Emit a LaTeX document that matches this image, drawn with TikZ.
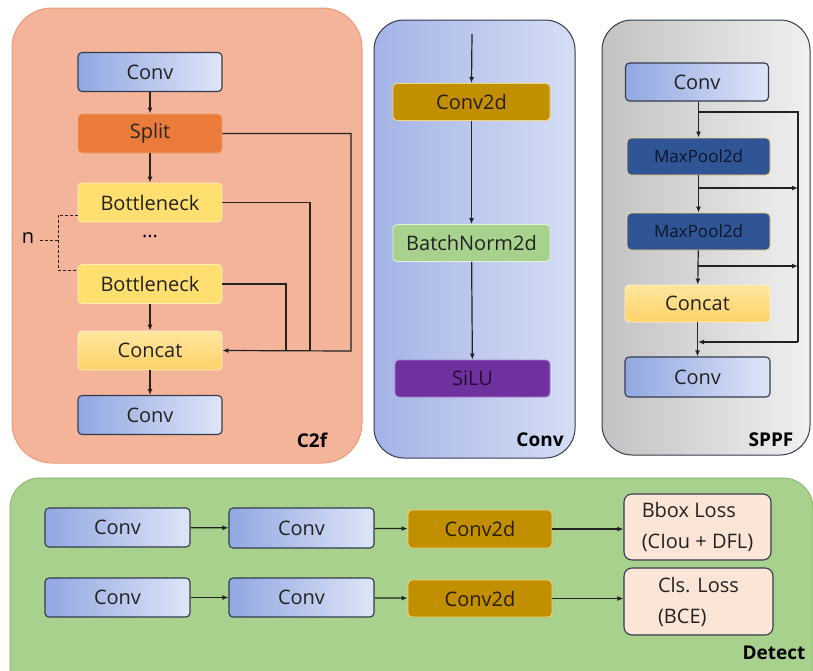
\documentclass[tikz,border=0pt]{standalone}
\usepackage{fontspec}
\setmainfont{Open Sans}
\usetikzlibrary{arrows.meta}
\definecolor{c2ffill}{HTML}{F4B49A}
\definecolor{c2fline}{HTML}{EE9A78}
\definecolor{bluedark}{HTML}{92A7E2}
\definecolor{bluelight}{HTML}{DEE5F7}
\definecolor{convpA}{HTML}{A3B3E6}
\definecolor{convpB}{HTML}{D6DEF5}
\definecolor{graypA}{HTML}{C2C2C2}
\definecolor{graypB}{HTML}{F0F0F0}
\definecolor{detfill}{HTML}{A9D18E}
\definecolor{detline}{HTML}{8CBB6C}
\definecolor{splitc}{HTML}{EB7B3A}
\definecolor{bottc}{HTML}{FFDF70}
\definecolor{concA}{HTML}{FFE6A0}
\definecolor{concB}{HTML}{FFD266}
\definecolor{goldc}{HTML}{C18F00}
\definecolor{goldline}{HTML}{F2D77A}
\definecolor{bnc}{HTML}{A9D18E}
\definecolor{siluc}{HTML}{7030A0}
\definecolor{mpc}{HTML}{2F5597}
\definecolor{lossc}{HTML}{FBE5D6}
\definecolor{ink}{HTML}{222222}
\definecolor{edge}{HTML}{333B4D}
\tikzset{
  box/.style={rectangle, rounded corners=4pt, minimum width=144pt, minimum height=39pt, inner sep=0pt, text=ink},
  bluebox/.style={box, draw=edge, line width=1.1pt, left color=bluedark, right color=bluelight},
  splitbox/.style={box, fill=splitc, draw=splitc!70!white, line width=0.8pt, text=black!85},
  bottbox/.style={box, fill=bottc, draw=bottc!50!white, line width=0.8pt},
  concbox/.style={box, top color=concA, bottom color=concB, draw=concA!60!white, line width=0.8pt},
  goldbox/.style={box, minimum height=37pt, fill=goldc, draw=goldline, line width=0.8pt, text=black!80!goldc},
  bnbox/.style={box, minimum height=37pt, fill=bnc, draw=white!70!bnc, line width=0.8pt},
  silubox/.style={box, minimum height=37pt, fill=siluc, draw=siluc!60!white, line width=0.8pt, text=black!70!siluc},
  mpbox/.style={box, minimum height=37pt, fill=mpc, draw=goldline, line width=0.8pt, text=black!75!mpc, font=\fontsize{17}{19}\selectfont},
  lossbox/.style={box, draw=edge, line width=1.1pt, fill=lossc, minimum width=148pt, minimum height=66pt, rounded corners=8pt, align=left, font=\fontsize{20}{31}\selectfont},
  panellabel/.style={font=\bfseries\fontsize{19}{21}\selectfont, text=black, inner sep=0pt},
  arr/.style={-{Latex[length=6pt,width=5pt]}, line width=1.2pt, draw=ink},
  ln/.style={line width=1.2pt, draw=ink},
}
\begin{document}
\begin{tikzpicture}[x=1pt,y=-1pt, font=\fontsize{20}{24}\selectfont]
\useasboundingbox (0,0) rectangle (813,670);
% panels
\node[draw=c2fline, fill=c2ffill, line width=1pt, rounded corners=40pt, minimum width=350pt, minimum height=455pt, inner sep=0pt] (pc2f) at (187,235.5) {};
\node[draw=edge, line width=1pt, left color=convpA, right color=convpB, rounded corners=30pt, minimum width=201pt, minimum height=438pt, inner sep=0pt] (pconv) at (474.5,239) {};
\node[draw=edge, line width=1pt, left color=graypA, right color=graypB, rounded corners=30pt, minimum width=208pt, minimum height=435pt, inner sep=0pt] (psppf) at (706,237.5) {};
\node[draw=detline, fill=detfill, line width=1pt, rounded corners=30pt, minimum width=803pt, minimum height=230pt, inner sep=0pt] (pdet) at (411.5,593) {};
% C2f
\node[bluebox] (cconv1) at (150,72) {Conv};
\node[splitbox] (csplit) at (150,133.5) {Split};
\node[bottbox] (cb1) at (150,202.5) {Bottleneck};
\node (cdots) at (150,236) {...};
\node[bottbox] (cb2) at (150,284) {Bottleneck};
\node[concbox] (cconcat) at (150,350.5) {Concat};
\node[bluebox] (cconv2) at (150,415) {Conv};
\node[panellabel] (lc2f) at (312,440) {C2f};
\draw[arr] (cconv1) -- (csplit);
\draw[arr] (csplit) -- (cb1);
\draw[arr] (cb2) -- (cconcat);
\draw[arr] (cconcat) -- (cconv2);
\coordinate (k1) at (351,351);
\coordinate (k2) at (310,351);
\coordinate (k3) at (286,351);
\draw[arr] (csplit.east) -| (k1) -- (cconcat.east);
\draw[ln] (cb1.east) -| (k2);
\draw[ln] (cb2.east) -| (k3);
\node[inner sep=0pt] (nlab) at (28,238) {n};
\coordinate (d1) at (78,215);
\coordinate (d2) at (58,215);
\coordinate (d3) at (58,270);
\coordinate (d4) at (78,270);
\coordinate (d5) at (58,240);
\coordinate (d6) at (40,240);
\draw[dash pattern=on 3pt off 2pt, line width=1pt, draw=ink] (d1) -- (d2) -- (d3) -- (d4);
\draw[dash pattern=on 3pt off 2pt, line width=1pt, draw=ink] (d6) -- (d5);
% Conv panel
\coordinate (cin) at (472,34);
\node[goldbox, minimum width=157pt] (vc2d) at (471.5,102) {Conv2d};
\node[bnbox, minimum width=157pt] (vbn) at (471.5,243) {BatchNorm2d};
\node[silubox, minimum width=155pt] (vsilu) at (472.5,378.5) {SiLU};
\node[panellabel] (lconv) at (540,440) {Conv};
\draw[arr] (cin) -- (vc2d.north);
\draw[arr] (vc2d) -- (vbn);
\draw[arr] (vbn) -- (vsilu);
% SPPF
\node[bluebox, minimum width=143pt, minimum height=38pt] (sconv1) at (697,82) {Conv};
\node[mpbox, minimum width=143pt] (smp1) at (698.5,156.5) {MaxPool2d};
\node[mpbox, minimum width=143pt] (smp2) at (698.5,231.5) {MaxPool2d};
\node[concbox, minimum width=145pt, minimum height=37pt] (sconcat) at (697.5,303.5) {Concat};
\node[bluebox, minimum width=145pt, minimum height=40pt] (sconv2) at (697.5,377) {Conv};
\node[panellabel] (lsppf) at (771,440) {SPPF};
\coordinate (j1) at (698,112);
\coordinate (j1r) at (798,112);
\coordinate (j4) at (798,342);
\coordinate (j4l) at (698,342);
\coordinate (j2) at (698,188);
\coordinate (j2r) at (798,188);
\coordinate (j3) at (698,266);
\coordinate (j3r) at (798,266);
\draw[arr] (sconv1.south -| smp1.north) -- (smp1.north);
\draw[arr] (smp1) -- (smp2);
\draw[arr] (smp2) -- (sconcat);
\draw[arr] (sconcat.south -| sconv2.north) -- (sconv2.north);
\draw[ln] (j1) -- (j1r) -- (j4);
\draw[arr] (j4) -- (j4l);
\draw[arr] (j2) -- (j2r);
\draw[arr] (j3) -- (j3r);
% Detect
\node[bluebox, minimum width=145pt] (dc1) at (117.5,527.5) {Conv};
\node[bluebox, minimum width=145pt, minimum height=40pt] (dc2) at (301.5,528) {Conv};
\node[goldbox, minimum width=144pt, minimum height=38pt] (dd1) at (480,529) {Conv2d};
\node[lossbox, minimum width=147pt] (dl1) at (697.5,527) {Bbox Loss\\(CIou + DFL)};
\node[bluebox, minimum width=145pt] (dc3) at (117.5,597.5) {Conv};
\node[bluebox, minimum width=145pt] (dc4) at (301.5,597.5) {Conv};
\node[goldbox, minimum width=144pt, minimum height=37pt] (dd2) at (480,598.5) {Conv2d};
\node[lossbox, minimum width=149pt, minimum height=67pt] (dl2) at (698.5,601.5) {Cls. Loss\\(BCE)};
\node[panellabel] (ldet) at (774,653) {Detect};
\draw[arr] (dc1) -- (dc2);
\draw[arr] (dc2) -- (dd1);
\draw[arr] (dd1) -- (dd1 -| dl1.west);
\draw[arr] (dc3) -- (dc4);
\draw[arr] (dc4) -- (dd2);
\draw[arr] (dd2) -- (dd2 -| dl2.west);
\end{tikzpicture}
\end{document}
